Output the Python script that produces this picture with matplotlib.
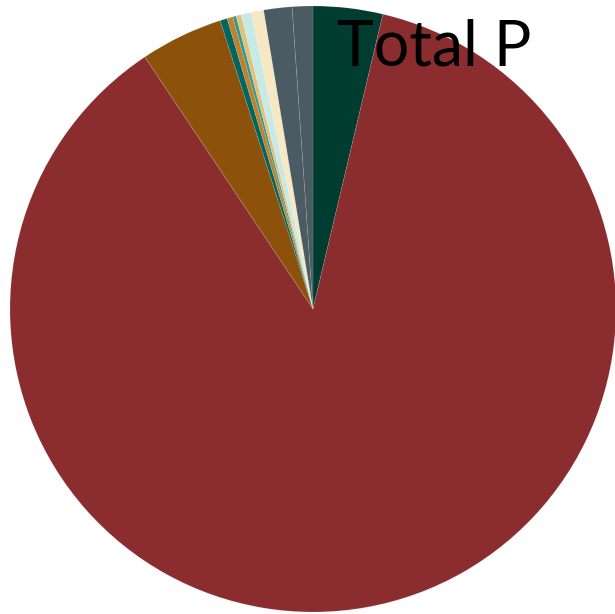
import matplotlib
matplotlib.use("Agg")
import matplotlib.pyplot as plt

# shares of total P, clockwise from 12 o'clock
labels = ["a", "b", "c", "d", "e", "f", "g", "h", "i", "j", "k"]
values = [3.7, 86.8, 4.4, 0.38, 0.31, 0.18, 0.27, 0.54, 0.67, 1.5, 1.1]
colors = ["#003c30", "#8b2c2e", "#8c510a", "#01665e", "#bf812d", "#35978f",
          "#dfc27d", "#c7eae5", "#f6e8c3", "#4a5b63", "#4a5b63"]

fig = plt.figure(figsize=(6.15, 6.14), dpi=100)
ax = fig.add_axes([0, 0, 1, 1])
ax.pie(values, colors=colors, startangle=90, counterclock=False, radius=1,
       wedgeprops=dict(edgecolor=(1, 1, 1, 0.15), linewidth=0.5))

r = 303.0
ax.set_aspect("auto")
ax.set_xlim(-313 / r, (615 - 313) / r)
ax.set_ylim(-(614 - 309) / r, 309 / r)
ax.axis("off")

fig.text(337 / 615, 1 - 66 / 614, "Total P", fontsize=45, family="Lato",
         va="baseline", ha="left", color="black")

fig.savefig("out.png", dpi=100)
